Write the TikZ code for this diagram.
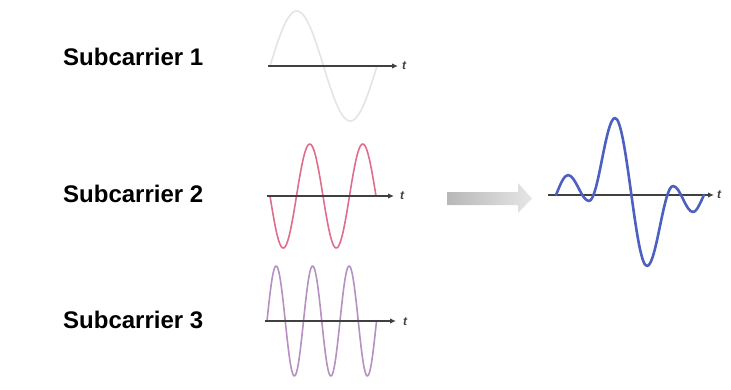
\documentclass[tikz,border=0pt]{standalone}
\usepackage{fontspec}
\setmainfont{Liberation Sans}
\usetikzlibrary{arrows.meta}
\definecolor{axisgray}{HTML}{404040}
\definecolor{sone}{HTML}{E4E4E4}
\definecolor{stwo}{HTML}{DE6E8C}
\definecolor{sthree}{HTML}{B690C0}
\definecolor{sumblue}{HTML}{4C60C2}
\tikzset{
  lbl/.style={anchor=base west, inner sep=0pt, font=\fontsize{24}{24}\selectfont\bfseries},
  tlbl/.style={anchor=west, inner sep=0pt, font=\fontsize{12}{12}\selectfont\bfseries\itshape, text=axisgray},
  axisline/.style={draw=axisgray, line width=1.5pt, -{Latex[length=6pt,width=5.5pt]}},
  wave/.style={line width=1.6pt, line cap=round, line join=round},
}
\begin{document}
\begin{tikzpicture}[x=1pt,y=-1pt]
\useasboundingbox (0,0) rectangle (731,389);
% labels
\node[lbl] (l1) at (63,65) {Subcarrier 1};
\node[lbl] (l2) at (63,202) {Subcarrier 2};
\node[lbl] (l3) at (63,328) {Subcarrier 3};
% subcarrier 1
\draw[wave, sone] plot[domain=270:377, samples=80, smooth] (\x, {66-55*sin((\x-270)/107*360)});
\coordinate (a1s) at (268,66);
\coordinate (a1e) at (398,66);
\draw[axisline] (a1s) -- (a1e);
\node[tlbl] (t1) at (402,66) {t};
% subcarrier 2
\draw[wave, stwo] plot[domain=270:376, samples=120, smooth] (\x, {196+52*sin((\x-270)/53*360)});
\coordinate (a2s) at (267,196);
\coordinate (a2e) at (394,196);
\draw[axisline] (a2s) -- (a2e);
\node[tlbl] (t2) at (400,196) {t};
% subcarrier 3
\draw[wave, sthree] plot[domain=267:376.5, samples=150, smooth] (\x, {321-55*sin((\x-267)/36.5*360)});
\coordinate (a3s) at (265,321);
\coordinate (a3e) at (396,321);
\draw[axisline] (a3s) -- (a3e);
\node[tlbl] (t3) at (403,322) {t};
% gradient arrow
\shade[left color=black!28, right color=black!10]
  (447,192) -- (518,192) -- (518,183) -- (532,198.5) -- (518,213) -- (518,205) -- (447,205) -- cycle;
% combined signal
\coordinate (a4s) at (548,195);
\coordinate (a4e) at (714,195);
\draw[axisline] (a4s) -- (a4e);
\node[tlbl] (t4) at (717,195) {t};
\draw[wave, sumblue, line width=2.6pt]
  (556,195) .. controls (560,185) and (564,175) .. (568,175)
  .. controls (575.6,175) and (581.4,201) .. (589,201)
  .. controls (598.4,201) and (605.6,118) .. (615,118)
  .. controls (626.6,118) and (635.4,266) .. (647,266)
  .. controls (656.4,266) and (663.6,186) .. (673,186)
  .. controls (680.3,186) and (685.7,212) .. (693,212)
  .. controls (697,212) and (701,201) .. (704,195);
\end{tikzpicture}
\end{document}
